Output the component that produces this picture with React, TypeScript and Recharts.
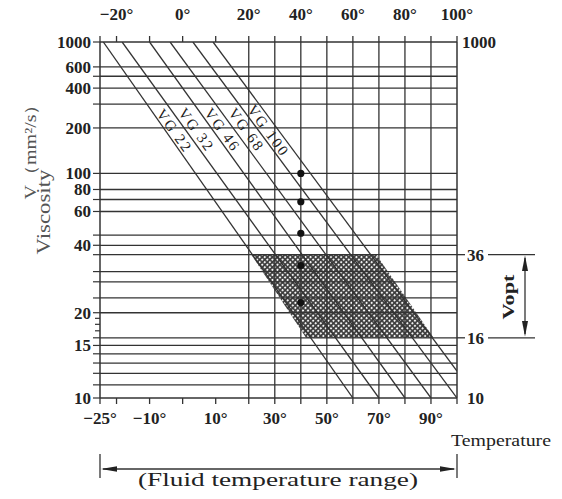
import { ComposedChart, XAxis, YAxis, Line, Area, Scatter, ReferenceLine } from "recharts";

// temperature scale (°C)
const TEMP_TICKS = [-25, -20, -10, 0, 10, 20, 30, 40, 50, 60, 70, 80, 90, 100];
const TOP_LABELS = [-20, 0, 20, 40, 60, 80, 100];
const BOTTOM_LABELS = [-25, -10, 10, 30, 50, 70, 90];
const GRID_TEMPS = [20, 30, 40, 50, 60, 70, 80, 90];

// viscosity scale (mm²/s)
const VISC_GRID = [600, 500, 400, 300, 200, 100, 80, 70, 60, 45, 40, 36, 30, 27, 23, 20, 16, 15, 14, 13, 12, 11];
const VISC_MINOR = [17, 18, 19];
const VISC_LABELS = [1000, 600, 400, 200, 100, 80, 60, 40, 20, 15, 10];
const RIGHT_LABELS = [1000, 36, 16, 10];
const VOPT = [36, 16];

// VG band boundaries: start (temp at 1000 mm²/s) and end point
const LINE_START_TEMP = [-24, -18.3, -10, -3.8, 3.1, 9.2];
const LINE_END_TEMP = [60, 70, 80, 90, 100, 100];
const LINE_END_VISC = [10, 10, 10, 10, 10, 12.2];
const VG_NAMES = ["VG 22", "VG 32", "VG 46", "VG 68", "VG 100"];
const VG_GRADES = [22, 32, 46, 68, 100];
const DOT_TEMP = 40;

// shaded operating range (36 -> 16 mm²/s)
const HATCH_TOP_TEMP = [21, 69];
const HATCH_BOTTOM_TEMP = [42, 91];

const FONT = '"Liberation Serif", "Times New Roman", serif';
const INK = "#333";

// chart uses a stretched scale below 20° and loglog for viscosity
const tx = (t: number) => (t >= 20 ? t : 20 + (t - 20) * 1.27);
const fromTx = (u: number) => Math.round(u >= 20 ? u : 20 + (u - 20) / 1.27);
const ty = (v: number) => Math.log10(Math.log10(v));
const fromTy = (y: number) => Math.round(10 ** (10 ** y));
const deg = (t: number) => `${t < 0 ? "−" + Math.abs(t) : t}°`;

const vgLines = LINE_START_TEMP.map((t, i) => [
  { x: tx(t), y: ty(1000) },
  { x: tx(LINE_END_TEMP[i]), y: ty(LINE_END_VISC[i]) },
]);
const dots = VG_GRADES.map((v) => ({ x: tx(DOT_TEMP), y: ty(v) }));
const hatch = [
  { x: tx(HATCH_TOP_TEMP[0]), r: [ty(VOPT[0]), ty(VOPT[0])] },
  { x: tx(HATCH_BOTTOM_TEMP[0]), r: [ty(VOPT[1]), ty(VOPT[0])] },
  { x: tx(HATCH_TOP_TEMP[1]), r: [ty(VOPT[1]), ty(VOPT[0])] },
  { x: tx(HATCH_BOTTOM_TEMP[1]), r: [ty(VOPT[1]), ty(VOPT[1])] },
];

const tickText = { fontFamily: FONT, fontWeight: 700, fontSize: 17, fill: "#222" };

function TopTick({ x, y, payload }: any) {
  const t = fromTx(payload.value);
  return (
    <g>
      <line x1={x} x2={x} y1={y - 6} y2={y} stroke={INK} strokeWidth={1.3} />
      {TOP_LABELS.includes(t) && (
        <text x={x} y={y - 22} textAnchor="middle" {...tickText}>{deg(t)}</text>
      )}
    </g>
  );
}

function BottomTick({ x, y, payload }: any) {
  const t = fromTx(payload.value);
  return (
    <g>
      <line x1={x} x2={x} y1={y} y2={y + 6} stroke={INK} strokeWidth={1.3} />
      {BOTTOM_LABELS.includes(t) && (
        <text x={x} y={y + 26} textAnchor="middle" {...tickText}>{deg(t)}</text>
      )}
    </g>
  );
}

function LeftTick({ x, y, payload }: any) {
  const v = fromTy(payload.value);
  const minor = VISC_MINOR.includes(v);
  return (
    <g>
      <line x1={x - (minor ? 5 : 7)} x2={x} y1={y} y2={y} stroke={INK} strokeWidth={1.2} />
      {VISC_LABELS.includes(v) && (
        <text x={x - 9} y={y} dy="0.35em" textAnchor="end" {...tickText}>{v}</text>
      )}
    </g>
  );
}

function RightTick({ x, y, payload }: any) {
  const v = fromTy(payload.value);
  const dim = VOPT.includes(v);
  return (
    <g>
      {dim && <line x1={x} x2={x + 8} y1={y} y2={y} stroke={INK} strokeWidth={1.3} />}
      {dim && <line x1={x + 31} x2={x + 78} y1={y} y2={y} stroke={INK} strokeWidth={1.3} />}
      <text x={x + (v === 1000 ? 5 : 10)} y={y} dy="0.35em" {...tickText}>{v}</text>
    </g>
  );
}

export default function App() {
  const xDomain = [tx(-25), 100];
  const yDomain = [0, ty(1000)];
  const line = { stroke: INK, strokeWidth: 1.3 };
  return (
    <div style={{ position: "relative", width: 562, height: 499, margin: -8, background: "#fff" }}>
      <ComposedChart width={562} height={499} margin={{ top: 0, right: 0, bottom: 0, left: 0 }}>
        <defs>
          <pattern id="mesh" width="3.6" height="3.6" patternUnits="userSpaceOnUse" patternTransform="rotate(45)">
            <rect width="3.6" height="3.6" fill="#3c3c3c" />
            <circle cx="1.8" cy="1.8" r="1.05" fill="#fff" />
          </pattern>
        </defs>
        <XAxis xAxisId="top" orientation="top" dataKey="x" type="number" domain={xDomain}
          allowDataOverflow ticks={TEMP_TICKS.map(tx)} interval={0} height={42}
          tickSize={0} tickMargin={0} tickLine={false} tick={<TopTick />}
          axisLine={{ stroke: INK, strokeWidth: 1.5 }} />
        <XAxis xAxisId="bottom" orientation="bottom" dataKey="x" type="number" domain={xDomain}
          allowDataOverflow ticks={TEMP_TICKS.map(tx)} interval={0} height={101}
          tickSize={0} tickMargin={0} tickLine={false} tick={<BottomTick />}
          axisLine={{ stroke: INK, strokeWidth: 1.5 }} />
        <YAxis yAxisId="left" type="number" domain={yDomain} allowDataOverflow width={100}
          ticks={[1000, ...VISC_GRID, ...VISC_MINOR, 10].map(ty)} interval={0}
          tickSize={0} tickMargin={0} tickLine={false} tick={<LeftTick />}
          axisLine={{ stroke: INK, strokeWidth: 1.5 }} />
        <YAxis yAxisId="right" orientation="right" type="number" domain={yDomain} allowDataOverflow
          width={105} ticks={RIGHT_LABELS.map(ty)} interval={0}
          tickSize={0} tickMargin={0} tickLine={false} tick={<RightTick />}
          axisLine={{ stroke: INK, strokeWidth: 1.5 }} />

        <Area xAxisId="bottom" yAxisId="left" data={hatch} dataKey="r" type="linear"
          fill="url(#mesh)" fillOpacity={1} stroke="none" isAnimationActive={false} />

        {VISC_GRID.map((v) => (
          <ReferenceLine key={"h" + v} xAxisId="bottom" yAxisId="left" y={ty(v)} {...line} />
        ))}
        {GRID_TEMPS.map((t) => (
          <ReferenceLine key={"v" + t} xAxisId="bottom" yAxisId="left" x={tx(t)} {...line} />
        ))}

        {vgLines.map((d, i) => (
          <Line key={i} xAxisId="bottom" yAxisId="left" data={d} dataKey="y" type="linear"
            dot={false} activeDot={false} isAnimationActive={false} {...line} />
        ))}

        <Scatter xAxisId="bottom" yAxisId="left" data={dots} dataKey="y" isAnimationActive={false}
          shape={(p: any) => <circle cx={p.cx} cy={p.cy} r={3.6} fill="#111" />} />
      </ComposedChart>

      <svg width={562} height={499} style={{ position: "absolute", left: 0, top: 0, pointerEvents: "none" }}>
        <g fontFamily={FONT} fill="#555">
          <text transform="translate(30,147) rotate(-90)" textAnchor="middle" dy="0.35em" fontSize={16}
            textLength={105} lengthAdjust="spacingAndGlyphs">V（mm²/s）</text>
          <text transform="translate(44,212) rotate(-90)" textAnchor="middle" dy="0.35em" fontSize={18}
            textLength={85} lengthAdjust="spacingAndGlyphs">Viscosity</text>
        </g>

        {/* grade names sit inside their bands */}
        <g fontFamily={FONT} fontSize={15} fill="#222">
          {VG_NAMES.map((name, i) => {
            const pos = [[174, 130], [196, 129], [222, 129], [246, 129], [268, 130]][i];
            return (
              <text key={name} transform={`translate(${pos[0]},${pos[1]}) rotate(54)`} textAnchor="middle"
                dy="0.35em" textLength={name.length > 5 ? 58 : 48} lengthAdjust="spacing">{name}</text>
            );
          })}
        </g>

        <text x={508} y={297} transform="rotate(-90 508 297)" textAnchor="middle" dy="0.35em"
          fontFamily={FONT} fontWeight={700} fontSize={17} fill="#222" textLength={45}
          lengthAdjust="spacingAndGlyphs">Vopt</text>
        <line x1={525} x2={525} y1={258} y2={334} stroke={INK} strokeWidth={1.3} />
        <polygon points="525,255.5 522,271 528,271" fill="#222" />
        <polygon points="525,336.5 522,321 528,321" fill="#222" />

        <text x={451} y={446} fontFamily={FONT} fontSize={16} fill="#222" textLength={100}
          lengthAdjust="spacingAndGlyphs">Temperature</text>

        <line x1={100} x2={100} y1={454} y2={478} stroke={INK} strokeWidth={1.3} />
        <line x1={457} x2={457} y1={454} y2={478} stroke={INK} strokeWidth={1.3} />
        <line x1={103} x2={454} y1={469} y2={469} stroke={INK} strokeWidth={1.3} />
        <polygon points="101,469 117,466.3 117,471.7" fill="#222" />
        <polygon points="456,469 440,466.3 440,471.7" fill="#222" />
        <text x={138} y={486} fontFamily={FONT} fontSize={18} fill="#222" textLength={280}
          lengthAdjust="spacingAndGlyphs">(Fluid temperature range)</text>
      </svg>
    </div>
  );
}
